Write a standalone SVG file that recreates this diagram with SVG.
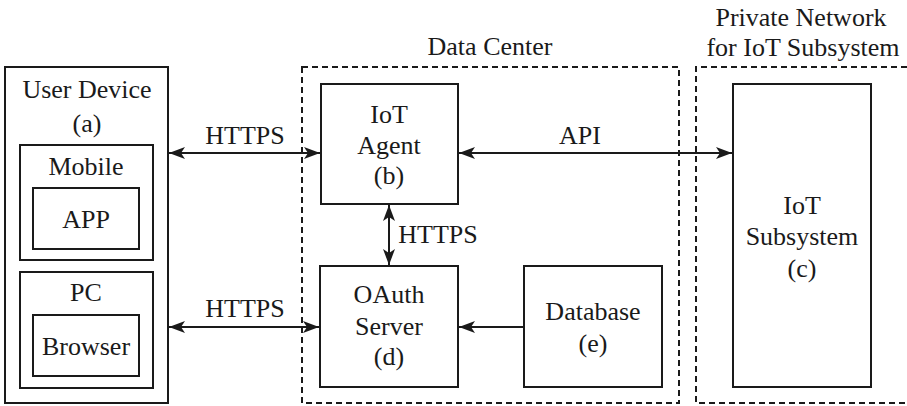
<svg xmlns="http://www.w3.org/2000/svg" width="907" height="406" viewBox="0 0 907 406">
<defs>
<style>
.box{fill:#fff;stroke:#1a1a1a;stroke-width:2}
.dash{fill:none;stroke:#1a1a1a;stroke-width:2;stroke-dasharray:6 4}
.ln{stroke:#1a1a1a;stroke-width:2;fill:none}
.t{font-family:'Liberation Serif','DejaVu Serif',serif;font-size:26px;fill:#1a1a1a;text-anchor:middle}
</style>
<marker id="ah" viewBox="0 0 16 12" refX="16" refY="6" markerWidth="16" markerHeight="12" markerUnits="userSpaceOnUse" orient="auto-start-reverse">
<path d="M0,0 L16,6 L0,12 L4,6 z" fill="#1a1a1a"/>
</marker>
</defs>
<g class="t" font-family="Liberation Serif, serif">
<g id="datacenter">
<rect class="dash" x="302" y="67" width="377" height="336"/>
<text x="490" y="55">Data Center</text>
</g>
<g id="privatenet">
<path class="dash" d="M907,67 H696 V403 H907"/>
<text x="801" y="26">Private Network</text>
<text x="803" y="56">for IoT Subsystem</text>
</g>
<g id="userdevice">
<rect class="box" x="5" y="67" width="163" height="336"/>
<text x="87" y="98">User Device</text>
<text x="87" y="132">(a)</text>
</g>
<g id="mobile">
<rect class="box" x="20" y="145" width="133" height="115"/>
<text x="86" y="175">Mobile</text>
</g>
<g id="app">
<rect class="box" x="33" y="188" width="106" height="61"/>
<text x="86" y="228">APP</text>
</g>
<g id="pc">
<rect class="box" x="20" y="272" width="133" height="116"/>
<text x="86" y="301">PC</text>
</g>
<g id="browser">
<rect class="box" x="33" y="315" width="106" height="61"/>
<text x="86" y="355">Browser</text>
</g>
<g id="iotagent">
<rect class="box" x="321" y="84" width="137" height="120"/>
<text x="389" y="123">IoT</text>
<text x="389" y="154">Agent</text>
<text x="389" y="184">(b)</text>
</g>
<g id="oauth">
<rect class="box" x="320" y="266" width="138" height="121"/>
<text x="389" y="303">OAuth</text>
<text x="389" y="335">Server</text>
<text x="389" y="365">(d)</text>
</g>
<g id="database">
<rect class="box" x="524" y="266" width="138" height="121"/>
<text x="593" y="320">Database</text>
<text x="593" y="352">(e)</text>
</g>
<g id="iotsubsystem">
<rect class="box" x="733" y="84" width="138" height="303"/>
<text x="802" y="214">IoT</text>
<text x="802" y="245">Subsystem</text>
<text x="802" y="277">(c)</text>
</g>
<g id="connectors">
<line class="ln" x1="169" y1="153" x2="320" y2="153" marker-start="url(#ah)" marker-end="url(#ah)"/>
<line class="ln" x1="459" y1="153" x2="732" y2="153" marker-start="url(#ah)" marker-end="url(#ah)"/>
<line class="ln" x1="389" y1="205" x2="389" y2="265" marker-start="url(#ah)" marker-end="url(#ah)"/>
<line class="ln" x1="169" y1="327" x2="319" y2="327" marker-start="url(#ah)" marker-end="url(#ah)"/>
<line class="ln" x1="523" y1="327" x2="459" y2="327" marker-end="url(#ah)"/>
<text x="245" y="144">HTTPS</text>
<text x="580" y="144">API</text>
<text x="438" y="243">HTTPS</text>
<text x="245" y="317">HTTPS</text>
</g>
</g>
</svg>
